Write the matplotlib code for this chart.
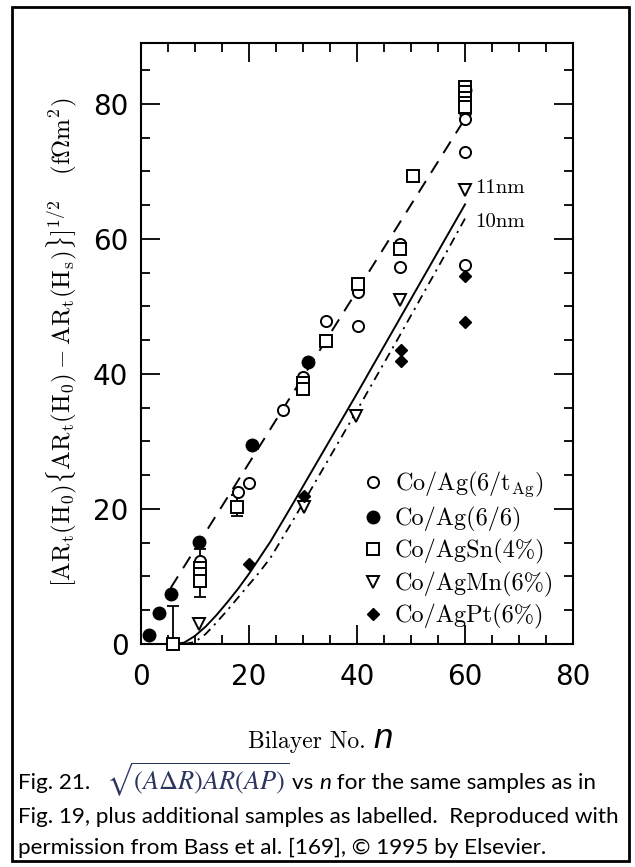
import matplotlib
matplotlib.use("Agg")
import matplotlib.pyplot as plt
from matplotlib.patches import Rectangle
from matplotlib.ticker import MultipleLocator

plt.rcParams["mathtext.fontset"] = "cm"

# ---- data: bilayer number n and sqrt(AR*dAR) in fOhm m^2 ----
co_ag_var_n = [11, 18, 20, 26.3, 30, 34.3, 40.2, 40.1, 48, 48, 60, 60, 60, 60]
co_ag_var_y = [12.3, 22.5, 23.8, 34.6, 39.6, 47.8, 47.1, 52.1, 59.3, 55.9, 78.8, 77.7, 72.9, 56.1]

co_ag_66_n = [1.4, 3.4, 5.5, 10.8, 20.6, 31.0, 60]
co_ag_66_y = [1.4, 4.6, 7.4, 15.1, 29.5, 41.8, 82.1]

co_agsn_n = [6.0, 11, 11, 11, 17.8, 30, 30, 34.3, 40.1, 48, 50.4, 60, 60, 60, 60, 60]
co_agsn_y = [0.0, 11.3, 10.3, 9.3, 20.3, 38.6, 37.8, 44.8, 53.3, 58.5, 69.3, 82.5, 81.7, 80.9, 80.1, 79.5]

# error bars on some Co/AgSn points
err_n = [6.0, 11, 17.8]
err_y = [0.0, 10.5, 20.5]
err_size = [5.7, 3.6, 1.5]

co_agmn_n = [10.8, 30.2, 39.8, 47.9, 60]
co_agmn_y = [3.0, 20.3, 33.8, 50.9, 67.3]

co_agpt_n = [20.0, 30.2, 48.2, 48.2, 60, 60]
co_agpt_y = [11.9, 21.9, 43.5, 41.9, 54.5, 47.7]

# fitted / calculated curves
dashed_n = [5.5, 60]
dashed_y = [8.3, 77.8]

fit11_n = [6, 8, 10, 12, 14, 16, 18, 20, 24, 28, 32, 36, 40, 44, 48, 52, 56, 60]
fit11_y = [0, 0.2, 1.2, 2.6, 4.3, 6.2, 8.2, 10.4, 15.2, 20.6, 26.1, 31.6, 37.1, 42.7, 48.3, 53.9, 59.5, 65.1]

fit10_n = [8, 10, 12, 14, 16, 18, 20, 22, 24, 28, 32, 36, 40, 44, 48, 52, 56, 60]
fit10_y = [0, 0.3, 1.5, 3.2, 5.0, 6.9, 8.8, 10.7, 12.8, 18.1, 23.6, 29.1, 34.6, 40.2, 45.8, 51.5, 57.2, 63.0]

legend_labels = [r"Co/Ag(6/t$_{\mathrm{Ag}}$)", "Co/Ag(6/6)", "Co/AgSn(4%)",
                 "Co/AgMn(6%)", "Co/AgPt(6%)"]

W, H = 635, 867
fig = plt.figure(figsize=(W / 100, H / 100), dpi=100)
ax = fig.add_axes([141 / W, 1 - 644 / H, 432 / W, 601 / H])

ax.plot(dashed_n, dashed_y, color="black", lw=1.4, dashes=(7, 5))
ax.plot(fit11_n, fit11_y, color="black", lw=1.4)
ax.plot(fit10_n, fit10_y, color="black", lw=1.3, dashes=(5, 3, 1.2, 3))

ax.errorbar(err_n, err_y, yerr=err_size, fmt="none", ecolor="black",
            elinewidth=1.3, capsize=4.5, capthick=1.3)

mk = dict(linestyle="none", color="black", clip_on=False, zorder=5)
ax.plot(co_ag_var_n, co_ag_var_y, marker="o", ms=8, mfc="white", mew=1.4,
        label=legend_labels[0], **mk)
ax.plot(co_ag_66_n, co_ag_66_y, marker="o", ms=9, mfc="black", mew=1.0,
        label=legend_labels[1], **mk)
ax.plot(co_agsn_n, co_agsn_y, marker="s", ms=8, mfc="white", mew=1.4,
        label=legend_labels[2], **mk)
ax.plot(co_agmn_n, co_agmn_y, marker="v", ms=9, mfc="white", mew=1.4,
        label=legend_labels[3], **mk)
ax.plot(co_agpt_n, co_agpt_y, marker="D", ms=6.5, mfc="black", mew=1.0,
        label=legend_labels[4], **mk)

ax.set_xlim(0, 80)
ax.set_ylim(0, 89)
ax.xaxis.set_major_locator(MultipleLocator(20))
ax.xaxis.set_minor_locator(MultipleLocator(5))
ax.yaxis.set_major_locator(MultipleLocator(20))
ax.yaxis.set_minor_locator(MultipleLocator(5))
ax.tick_params(which="both", direction="in", top=True, right=True, width=1.3)
ax.tick_params(which="major", length=14, labelsize=20)
ax.tick_params(axis="x", which="major", pad=14)
ax.tick_params(axis="y", which="major", pad=9)
ax.tick_params(which="minor", length=6.5)
for sp in ax.spines.values():
    sp.set_linewidth(1.5)

ax.text(61.8, 67.5, "11nm", fontsize=15, family="cmr10", va="center", ha="left")
ax.text(61.8, 62.5, "10nm", fontsize=15, family="cmr10", va="center", ha="left")

ax.legend(loc="upper left", bbox_to_anchor=(0.515, 0.29), frameon=False,
          borderpad=0, borderaxespad=0, handlelength=0.8, handletextpad=0.5,
          labelspacing=0.3, prop={"family": "cmr10", "size": 17.5})

fig.text(62 / W, 1 - 342 / H,
         r"$[\mathrm{AR_t(H_0)\{AR_t(H_0)-AR_t(H_s)\}}]^{1/2}$   (f$\Omega$m$^2$)",
         rotation=90, ha="center", va="center", fontsize=18, family="cmr10")

fig.text(248 / W, 1 - 742 / H, "Bilayer No.", fontsize=17, family="cmr10",
         ha="left", va="center")
fig.text(373 / W, 1 - 738 / H, "n", fontsize=25, family="Liberation Sans",
         style="italic", ha="left", va="center")

# caption
cap = dict(family="Lato", fontsize=16.2, va="center", ha="left")
r = fig.canvas.get_renderer()
fig.text(18 / W, 1 - 783 / H, "Fig. 21.", **cap)
fig.text(106 / W, 1 - 780 / H, r"$\sqrt{(A\Delta R)AR(AP)}$", fontsize=19,
         math_fontfamily="stix", color="#2b3560", va="center", ha="left")
t2 = fig.text(292 / W, 1 - 783 / H, "vs ", **cap)
bb = t2.get_window_extent(r)
t3 = fig.text(bb.x1 / W, 1 - 783 / H, "n", style="italic", **cap)
bb = t3.get_window_extent(r)
fig.text(bb.x1 / W, 1 - 783 / H, " for the same samples as in", **cap)
fig.text(18 / W, 1 - 817 / H,
         "Fig. 19, plus additional samples as labelled.  Reproduced with", **cap)
fig.text(18 / W, 1 - 848 / H,
         "permission from Bass et al. [169], \u00a9 1995 by Elsevier.", **cap)

fig.patches.append(Rectangle((12 / W, 1 - 861 / H), 617 / W, 854 / H,
                             transform=fig.transFigure, fill=False,
                             edgecolor="black", lw=2))

fig.savefig("out.png", dpi=100)
